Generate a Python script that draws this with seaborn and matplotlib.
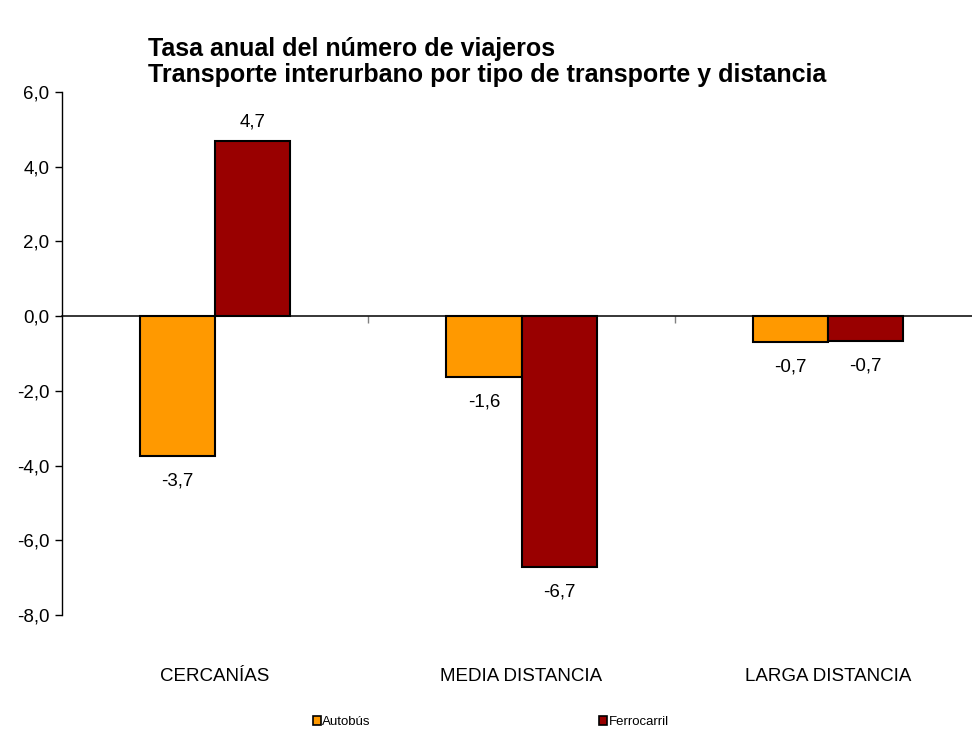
import matplotlib
matplotlib.use("Agg")
import matplotlib.pyplot as plt
import seaborn as sns
import pandas as pd
from matplotlib.patches import Patch

categorias = ["CERCANÍAS", "MEDIA DISTANCIA", "LARGA DISTANCIA"]
series = ["Autobús", "Ferrocarril"]
autobus = [-3.74, -1.64, -0.70]
ferrocarril = [4.68, -6.72, -0.67]
etiquetas_autobus = ["-3,7", "-1,6", "-0,7"]
etiquetas_ferrocarril = ["4,7", "-6,7", "-0,7"]
yticks = [-8, -6, -4, -2, 0, 2, 4, 6]
colores = {"Autobús": "#FF9900", "Ferrocarril": "#990000"}

df = pd.DataFrame({
    "Distancia": categorias * 2,
    "Transporte": [series[0]] * 3 + [series[1]] * 3,
    "Tasa": autobus + ferrocarril,
})

sns.set_theme(style="white")
plt.rcParams["font.family"] = ["Liberation Sans", "DejaVu Sans"]
plt.rcParams["text.color"] = "black"
plt.rcParams["xtick.color"] = "black"
plt.rcParams["ytick.color"] = "black"

FS = 13.5

fig = plt.figure(figsize=(9.72, 7.29), dpi=100)
ax = fig.add_axes([62 / 972, 1 - 615 / 729, 919 / 972, (615 - 92) / 729])

sns.barplot(data=df, x="Distancia", y="Tasa", hue="Transporte",
            hue_order=series, order=categorias, palette=colores,
            width=0.49, edgecolor="black", linewidth=1.5, ax=ax,
            errorbar=None, saturation=1)

if ax.get_legend() is not None:
    ax.get_legend().remove()

for cont, labs in zip(ax.containers, [etiquetas_autobus, etiquetas_ferrocarril]):
    for patch, lab in zip(cont.patches, labs):
        h = patch.get_height()
        xc = patch.get_x() + patch.get_width() / 2
        yv = patch.get_y() + h
        off = 14 if h >= 0 else -18
        ax.annotate(lab, (xc, yv), xytext=(0, off), textcoords="offset points",
                    ha="center", va="center", fontsize=FS, color="black")

ax.set_xlim(-0.5, 2.5)
ax.set_ylim(-8, 6)
ax.set_yticks(yticks)
ax.set_yticklabels([f"{v:.1f}".replace(".", ",") for v in yticks], fontsize=FS)
ax.set_xlabel("")
ax.set_ylabel("")

for s in ["top", "right"]:
    ax.spines[s].set_visible(False)
ax.spines["left"].set_color("black")
ax.spines["left"].set_linewidth(1.0)
ax.spines["bottom"].set_position(("data", 0))
ax.spines["bottom"].set_color("black")
ax.spines["bottom"].set_linewidth(1.1)
ax.spines["bottom"].set_zorder(5)

ax.tick_params(axis="y", direction="out", length=5, width=1, color="black", pad=4, left=True)
ax.set_xticks([0, 1, 2])
ax.set_xticklabels(categorias, fontsize=FS)
ax.set_xticks([0.5, 1.5], minor=True)
ax.tick_params(axis="x", which="major", length=0, pad=253, bottom=True)
ax.tick_params(axis="x", which="minor", direction="out", length=5, width=1, color="grey", bottom=True)

fig.text(148 / 972, 1 - 37 / 729, "Tasa anual del número de viajeros\nTransporte interurbano por tipo de transporte y distancia",
         ha="left", va="top", fontsize=18, fontweight="bold", linespacing=1.12)

handles = [Patch(facecolor=colores[s], edgecolor="black", linewidth=1.2) for s in series]
fig.legend(handles, series, loc="center", bbox_to_anchor=(0.505, 1 - 722 / 729),
           ncol=2, frameon=False, fontsize=9.5, handlelength=0.6, handleheight=0.6,
           handletextpad=0.1, columnspacing=17.3, borderpad=0.1)

fig.savefig("out.png", dpi=100)
